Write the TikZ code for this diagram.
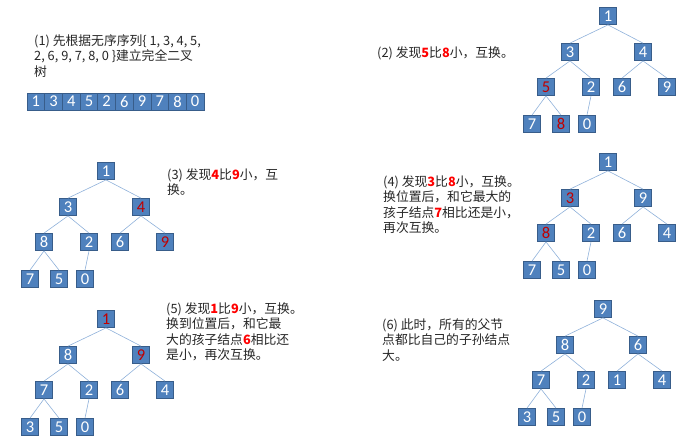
\documentclass[tikz,border=0pt]{standalone}
\usepackage{fontspec}
\setmainfont{Carlito}
\newfontfamily\cjk{Noto Sans CJK SC}

\definecolor{keyfill}{HTML}{4F81BD}
\definecolor{keyline}{HTML}{385D8A}
\definecolor{keyred}{HTML}{C00000}
\definecolor{edgeblue}{HTML}{8FB1DA}
\definecolor{notered}{HTML}{FF0000}
\definecolor{notetext}{HTML}{262626}

\tikzset{
  keybox/.style={draw=keyline,fill=keyfill,line width=0.8pt,minimum size=17pt,
    inner sep=0pt,text=white,font=\fontsize{16.5}{16.5}\selectfont},
  plain/.style={},
  hot/.style={text=keyred},
  treeedge/.style={draw=edgeblue,line width=0.6pt},
  cell/.style={keybox,minimum width=17.7pt},
  note/.style={anchor=north west,inner sep=0pt,align=left,text=notetext,
    font=\cjk\fontsize{12.8}{15.5}\selectfont}
}

\newcommand{\redkey}[1]{\textcolor{notered}{\textbf{#1}}}

% one heap: prefix, root position, values/styles in level order
\newcommand{\heaptree}[3]{%
  \begin{scope}[shift={#2}]
    \foreach \i/\px/\py in {1/0/0,2/-38/36,3/35/36,4/-62/71,5/-17/71,6/14/71,
        7/59/71,8/-76/108,9/-47/108,10/-21/108}
      \coordinate (#1p\i) at (\px,\py);
    \foreach \v/\k [count=\i] in {#3}
      \node[keybox,\k] (#1\i) at (#1p\i) {\v};
    \foreach \a/\b in {1/2,1/3,2/4,2/5,3/6,3/7,4/8,4/9,5/10}
      \draw[treeedge] (#1\a.south) -- (#1\b.north);
  \end{scope}}

\begin{document}
\begin{tikzpicture}[x=1pt,y=-1pt]
\useasboundingbox (0,0) rectangle (697,440);

% (1) the array
\node[note] (step1) at (34,34) {(1) 先根据无序序列\{ 1, 3, 4, 5,\\2, 6, 9, 7, 8, 0 \}建立完全二叉\\树};
\foreach \v [count=\i] in {1,3,4,5,2,6,9,7,8,0}
  \node[cell] (arr\i) at ({18.15+17.7*\i},101.5) {\v};

% (2)
\node[note] (step2) at (377,46) {(2) 发现\redkey{5}比\redkey{8}小，互换。};
\heaptree{b}{(608,16)}{1/plain,3/plain,4/plain,5/hot,2/plain,6/plain,9/plain,7/plain,8/hot,0/plain}

% (3)
\node[note] (step3) at (167,168) {(3) 发现\redkey{4}比\redkey{9}小，互\\换。};
\heaptree{c}{(106,171)}{1/plain,3/plain,4/hot,8/plain,2/plain,6/plain,9/hot,7/plain,5/plain,0/plain}

% (4)
\node[note] (step4) at (383,175) {(4) 发现\redkey{3}比\redkey{8}小，互换。\\换位置后，和它最大的\\孩子结点\redkey{7}相比还是小，\\再次互换。};
\heaptree{d}{(608,162)}{1/plain,3/hot,9/plain,8/hot,2/plain,6/plain,4/plain,7/plain,5/plain,0/plain}

% (5)
\node[note] (step5) at (166,302) {(5) 发现\redkey{1}比\redkey{9}小，互换。\\换到位置后，和它最\\大的孩子结点\redkey{6}相比还\\是小，再次互换。};
\heaptree{e}{(106,319)}{1/hot,8/plain,9/hot,7/plain,2/plain,6/plain,4/plain,3/plain,5/plain,0/plain}

% (6)
\node[note] (step6) at (382,318) {(6) 此时，所有的父节\\点都比自己的子孙结点\\大。};
\heaptree{f}{(603,309)}{9/plain,8/plain,6/plain,7/plain,2/plain,1/plain,4/plain,3/plain,5/plain,0/plain}
\end{tikzpicture}
\end{document}
